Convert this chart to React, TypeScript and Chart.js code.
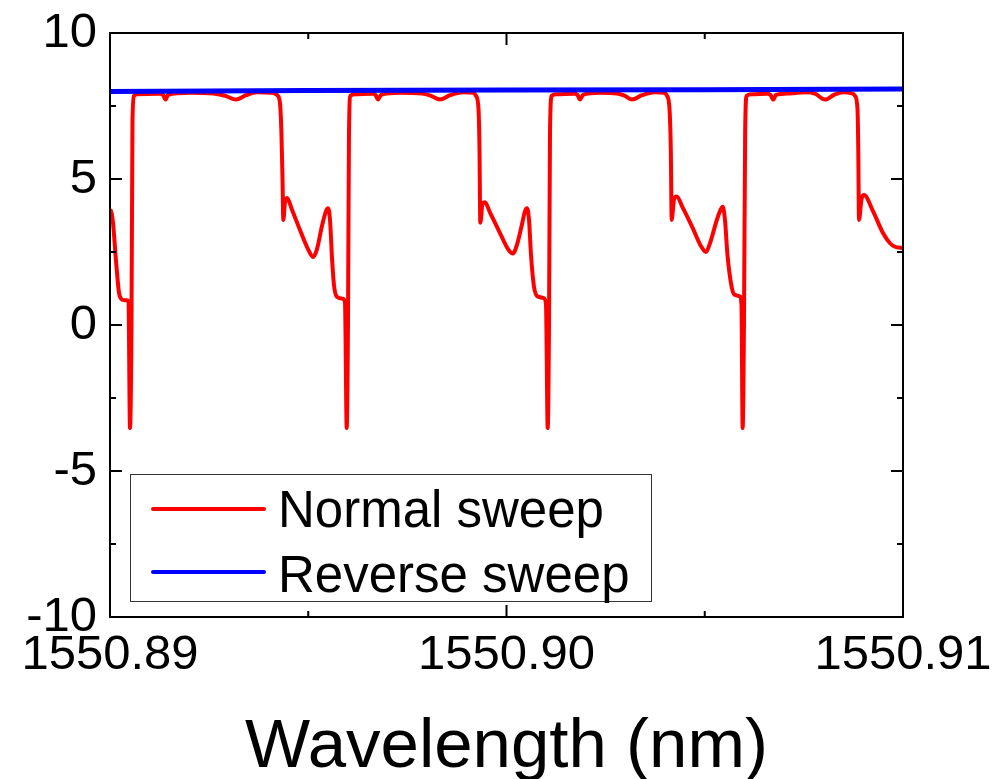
import React, { useEffect, useRef } from "react";
import { Chart, registerables } from "chart.js";

Chart.register(...registerables);

// ---- Data ----
const normalWavelength = [
  1550.89, 1550.890025, 1550.890076, 1550.890151, 1550.890227, 1550.890277, 1550.890353, 1550.890429,
  1550.890467, 1550.890504, 1550.890542, 1550.890567, 1550.890605, 1550.890681, 1550.891261, 1550.891337,
  1550.8914, 1550.891463, 1550.892018, 1550.892598, 1550.8929, 1550.893178, 1550.89343, 1550.893707,
  1550.894086, 1550.894212, 1550.894287, 1550.894325, 1550.894351, 1550.894371, 1550.894413, 1550.894464,
  1550.89459, 1550.894792, 1550.894994, 1550.89512, 1550.895221, 1550.895347, 1550.895448, 1550.895498,
  1550.895549, 1550.895599, 1550.89565, 1550.895725, 1550.895877, 1550.895927, 1550.89597, 1550.896002,
  1550.896027, 1550.896065, 1550.896179, 1550.896633, 1550.896696, 1550.896759, 1550.896835,
  // period 2
  1550.897314, 1550.897869, 1550.898096, 1550.898323, 1550.898575, 1550.898903, 1550.899155, 1550.899231,
  1550.899294, 1550.899319, 1550.899339, 1550.899395, 1550.899458, 1550.899584, 1550.899836, 1550.900038,
  1550.900164, 1550.900265, 1550.900391, 1550.900467, 1550.900517, 1550.900568, 1550.900618, 1550.900694,
  1550.900782, 1550.900946, 1550.900996, 1550.901039, 1550.901072, 1550.901097, 1550.90114, 1550.901273,
  1550.901727, 1550.90179, 1550.901853, 1550.901929,
  // period 3
  1550.902358, 1550.902787, 1550.902989, 1550.903165, 1550.903417, 1550.903745, 1550.903972, 1550.904048,
  1550.904111, 1550.904144, 1550.904166, 1550.904224, 1550.904292, 1550.904451, 1550.904703, 1550.904905,
  1550.905031, 1550.905132, 1550.905283, 1550.905384, 1550.905452, 1550.90551, 1550.905573, 1550.905679,
  1550.905762, 1550.905888, 1550.905926, 1550.905956, 1550.905989, 1550.906019, 1550.906057, 1550.90619,
  1550.906594, 1550.906657, 1550.906728, 1550.906796,
  // period 4
  1550.90715, 1550.907553, 1550.90778, 1550.908032, 1550.908259, 1550.908486, 1550.908713, 1550.908789,
  1550.908852, 1550.908872, 1550.90889, 1550.908953, 1550.909016, 1550.909243, 1550.909495, 1550.909672,
  1550.909798, 1550.91,
];
const normalPower = [
  3.94, 3.9, 3.5, 2.2, 1.1, 0.9, 0.85, 0.85,
  0.8, -3.53, 0, 7.0, 7.85, 7.9, 7.92, 7.88,
  7.72, 7.88, 7.95, 7.93, 7.85, 7.72, 7.87, 7.97,
  7.95, 7.88, 7.6, 6.5, 5.0, 3.6, 4.2, 4.35,
  3.95, 3.25, 2.6, 2.33, 2.6, 3.4, 3.9, 4.0,
  3.6, 2.3, 1.35, 0.96, 0.9, 0.75, -3.53, 0,
  6.5, 7.85, 7.9, 7.92, 7.88, 7.72, 7.88,
  // period 2
  7.95, 7.93, 7.85, 7.72, 7.87, 7.97, 7.95, 7.85,
  7.4, 6.0, 3.5, 4.15, 4.2, 3.85, 3.15, 2.6,
  2.45, 2.75, 3.45, 3.9, 4.0, 3.6, 2.4, 1.3,
  0.98, 0.92, 0.7, -3.53, 0, 6.6, 7.85, 7.9,
  7.92, 7.88, 7.72, 7.88,
  // period 3
  7.95, 7.93, 7.85, 7.72, 7.87, 7.97, 7.95, 7.85,
  7.4, 6.0, 3.6, 4.3, 4.4, 4.0, 3.3, 2.7,
  2.5, 2.8, 3.5, 3.9, 4.05, 3.6, 2.4, 1.3,
  1.03, 0.98, 0.7, -3.53, 0, 6.6, 7.85, 7.9,
  7.92, 7.88, 7.72, 7.88,
  // period 4
  7.93, 7.97, 7.92, 7.72, 7.88, 7.97, 7.93, 7.85,
  7.4, 6.0, 3.6, 4.3, 4.45, 3.9, 3.15, 2.8,
  2.68, 2.64,
];
const reverseWavelength = [1550.89, 1550.895, 1550.9, 1550.905, 1550.91];
const reversePower = [8.0, 8.03, 8.05, 8.06, 8.08];

const xTickValues = [1550.89, 1550.9, 1550.91];
const xMinorTickValues = [1550.895, 1550.905];
const yTickValues = [-10, -5, 0, 5, 10];
const yMinorTickValues = [-7.5, -2.5, 2.5, 7.5];
const seriesLabels = ["Normal sweep", "Reverse sweep"];
const seriesColors = ["#ff0000", "#0000ff"];
const xTitle = "Wavelength (nm)";

const FONT = '"Liberation Sans", Arial, Helvetica, sans-serif';

const framePlugin = {
  id: "framePlugin",
  afterDraw(chart: any) {
    const { ctx, chartArea } = chart;
    const { left, right, top, bottom } = chartArea;
    const xs = chart.scales.x;
    const ys = chart.scales.y;
    ctx.save();
    ctx.strokeStyle = "#000";
    ctx.lineWidth = 2;
    ctx.strokeRect(left, top, right - left, bottom - top);
    const major = 12;
    const minor = 6;
    ctx.beginPath();
    const yTick = (v: number, len: number) => {
      const p = ys.getPixelForValue(v);
      ctx.moveTo(left, p);
      ctx.lineTo(left + len, p);
      ctx.moveTo(right, p);
      ctx.lineTo(right - len, p);
    };
    const xTick = (v: number, len: number) => {
      const p = xs.getPixelForValue(v);
      ctx.moveTo(p, bottom);
      ctx.lineTo(p, bottom - len);
      ctx.moveTo(p, top);
      ctx.lineTo(p, top + len);
    };
    yTickValues.forEach((v) => yTick(v, major));
    yMinorTickValues.forEach((v) => yTick(v, minor));
    xTickValues.forEach((v) => xTick(v, major));
    xMinorTickValues.forEach((v) => xTick(v, minor));
    ctx.stroke();

    // axis title
    ctx.fillStyle = "#000";
    ctx.font = `69px ${FONT}`;
    ctx.textAlign = "center";
    ctx.textBaseline = "alphabetic";
    ctx.fillText(xTitle, (left + right) / 2, 767);

    // legend
    const bx = 130, by = 474, bw = 521, bh = 127;
    ctx.fillStyle = "#fff";
    ctx.fillRect(bx, by, bw, bh);
    ctx.strokeStyle = "#333";
    ctx.lineWidth = 1;
    ctx.strokeRect(bx + 0.5, by + 0.5, bw, bh);
    const rows = [
      { lineY: 509, baseY: 527 },
      { lineY: 572, baseY: 592 },
    ];
    rows.forEach((r, i) => {
      ctx.strokeStyle = seriesColors[i];
      ctx.lineWidth = 4;
      ctx.lineCap = "round";
      ctx.beginPath();
      ctx.moveTo(153, r.lineY);
      ctx.lineTo(264, r.lineY);
      ctx.stroke();
      ctx.fillStyle = "#000";
      ctx.font = `51px ${FONT}`;
      ctx.textAlign = "left";
      ctx.fillText(seriesLabels[i], 278, r.baseY);
    });
    ctx.restore();
  },
};

export default function App() {
  const canvasRef = useRef<HTMLCanvasElement | null>(null);

  useEffect(() => {
    document.body.style.margin = "0";
    const canvas = canvasRef.current;
    if (!canvas) return;
    const chart = new Chart(canvas, {
      type: "line",
      data: {
        datasets: [
          {
            label: seriesLabels[0],
            data: normalWavelength.map((x, i) => ({ x, y: normalPower[i] })),
            borderColor: seriesColors[0],
            backgroundColor: seriesColors[0],
            borderWidth: 4,
            pointRadius: 0,
            cubicInterpolationMode: "monotone",
            order: 1,
          },
          {
            label: seriesLabels[1],
            data: reverseWavelength.map((x, i) => ({ x, y: reversePower[i] })),
            borderColor: seriesColors[1],
            backgroundColor: seriesColors[1],
            borderWidth: 5,
            pointRadius: 0,
            order: 0,
          },
        ],
      },
      options: {
        animation: false,
        responsive: false,
        devicePixelRatio: 1,
        layout: { padding: { left: 0, right: 105, top: 33, bottom: 0 } },
        plugins: {
          legend: { display: false },
          tooltip: { enabled: false },
        },
        scales: {
          x: {
            type: "linear",
            min: 1550.89,
            max: 1550.91,
            afterBuildTicks: (s: any) => {
              s.ticks = xTickValues.map((v) => ({ value: v }));
            },
            afterFit: (s: any) => {
              s.height = 162;
              s.paddingLeft = 0;
              s.paddingRight = 0;
            },
            grid: { display: false, drawTicks: false },
            border: { display: false },
            ticks: {
              autoSkip: false,
              maxRotation: 0,
              padding: 9,
              color: "#000",
              font: { family: FONT, size: 49 },
              callback: (v: any) => Number(v).toFixed(2),
            },
          },
          y: {
            type: "linear",
            min: -10,
            max: 10,
            afterBuildTicks: (s: any) => {
              s.ticks = yTickValues.map((v) => ({ value: v }));
            },
            afterFit: (s: any) => {
              s.width = 110;
              s.paddingTop = 0;
              s.paddingBottom = 0;
            },
            grid: { display: false, drawTicks: false },
            border: { display: false },
            ticks: {
              autoSkip: false,
              padding: 13,
              color: "#000",
              font: { family: FONT, size: 49 },
              callback: (v: any) => String(v),
            },
          },
        },
      },
      plugins: [framePlugin],
    } as any);
    return () => chart.destroy();
  }, []);

  return (
    <div style={{ position: "absolute", left: 0, top: 0, width: 1008, height: 779, background: "#fff" }}>
      <canvas ref={canvasRef} width={1008} height={779} />
    </div>
  );
}
